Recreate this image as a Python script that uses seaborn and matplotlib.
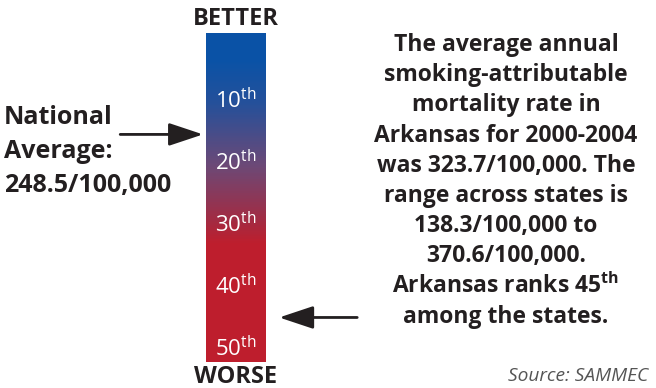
import numpy as np
import matplotlib
matplotlib.use("Agg")
import matplotlib.pyplot as plt
import seaborn as sns
from matplotlib.colors import LinearSegmentedColormap

# DATA

rank_ticks = [10, 20, 30, 40, 50]
rank_labels = [r"%d$^{\rm th}$" % r for r in rank_ticks]
arkansas_rank = 45
national_avg_pos = 15.4          # where 248.5/100,000 sits on the rank scale
scale_top, scale_bottom = -1.0, 52.2

grad_stops = [0.0, 0.08, 0.21, 0.40, 0.58, 0.64, 1.0]
grad_colors = ["#0a52a6", "#0a52a6", "#24509a", "#6b4977", "#a6293f", "#be1e2d", "#be1e2d"]

left_lines = ["National", "Average:", "248.5/100,000"]
right_lines = [
    "The average annual",
    "smoking-attributable",
    "mortality rate in",
    "Arkansas for 2000-2004",
    "was 323.7/100,000. The",
    "range across states is",
    "138.3/100,000 to",
    "370.6/100,000.",
    r"Arkansas ranks 45$^{\bf th}$",
    "among the states.",
]

# STYLE

sns.set_theme(style="white")
plt.rcParams["font.family"] = ["Open Sans", "DejaVu Sans"]
plt.rcParams["mathtext.fontset"] = "custom"
plt.rcParams["mathtext.rm"] = "Open Sans"
plt.rcParams["mathtext.bf"] = "Open Sans:bold"
plt.rcParams["mathtext.it"] = "Open Sans:italic"

W, H = 656, 388
fig = plt.figure(figsize=(W / 100, H / 100), dpi=100)


def fx(x):
    return x / W


def fy(y):
    return 1 - y / H


TXT = "#231f20"

# GRADIENT BAR

bar_rect = [fx(206), fy(362), fx(266) - fx(206), fy(33) - fy(362)]
bar_ax = fig.add_axes(bar_rect)
cmap = LinearSegmentedColormap.from_list("bw", list(zip(grad_stops, grad_colors)))
grad = np.linspace(0, 1, 400).reshape(-1, 1)
sns.heatmap(grad, cmap=cmap, cbar=False, ax=bar_ax, vmin=0, vmax=1,
            xticklabels=False, yticklabels=False)
bar_ax.set_axis_off()

# rank scale overlay
rank_ax = fig.add_axes(bar_rect)
rank_ax.set_ylim(scale_bottom, scale_top)
rank_ax.set_xlim(0, 1)
rank_ax.set_axis_off()
rank_ax.patch.set_alpha(0)

for r, lab in zip(rank_ticks, rank_labels):
    rank_ax.text(0.5, r, lab, color="white", fontsize=16, ha="center", va="center")

arrow = dict(arrowstyle="-|>,head_length=1.5,head_width=0.5", color=TXT, lw=2,
             shrinkA=0, shrinkB=0, mutation_scale=14)
rank_ax.annotate("", xy=(-0.05, national_avg_pos), xytext=(-1.43, national_avg_pos),
                 xycoords=("axes fraction", "data"), textcoords=("axes fraction", "data"),
                 arrowprops=arrow, annotation_clip=False)
rank_ax.annotate("", xy=(1.22, arkansas_rank), xytext=(2.52, arkansas_rank),
                 xycoords=("axes fraction", "data"), textcoords=("axes fraction", "data"),
                 arrowprops=arrow, annotation_clip=False)

# TEXT

fig.text(fx(236), fy(19), "BETTER", ha="center", va="center", fontsize=17,
         fontweight="bold", color=TXT)
fig.text(fx(236), fy(377), "WORSE", ha="center", va="center", fontsize=17,
         fontweight="bold", color=TXT)

for i, line in enumerate(left_lines):
    fig.text(fx(4), fy(118 + i * 33.5), line, ha="left", va="center", fontsize=18,
             fontweight="bold", color=TXT)

for i, line in enumerate(right_lines):
    fig.text(fx(506), fy(45 + i * 30.2), line, ha="center", va="center", fontsize=16.5,
             fontweight="bold", color=TXT)

fig.text(fx(648), fy(376), "Source: SAMMEC", ha="right", va="center", fontsize=13.8,
         style="italic", color="#555555")

fig.savefig("out.png", dpi=100)
